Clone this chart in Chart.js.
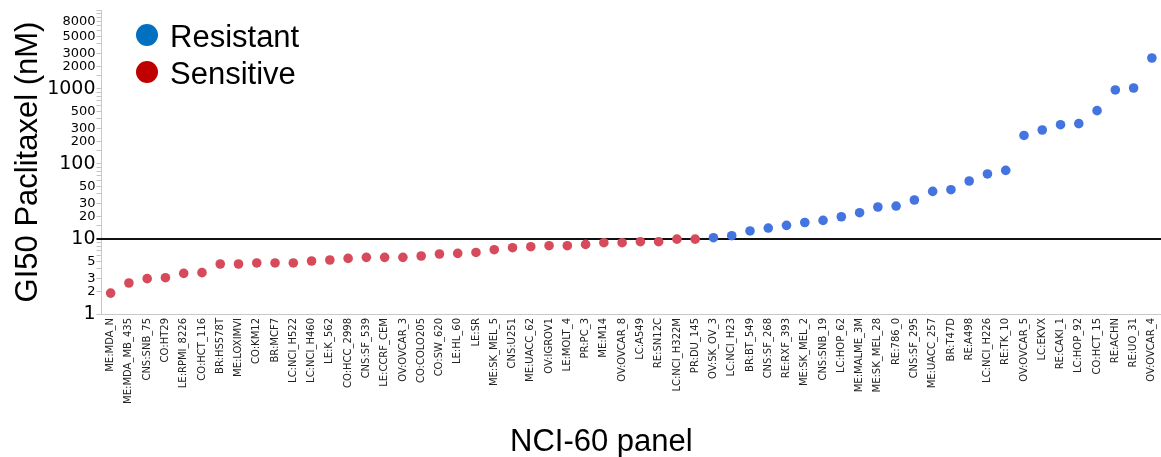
<!DOCTYPE html>
<html>
<head>
<meta charset="utf-8">
<script src="https://cdn.jsdelivr.net/npm/chart.js@4"></script>
<style>
  html, body { margin: 0; padding: 0; background: #fff; }
  #wrap { position: relative; width: 1161px; height: 457px; overflow: hidden; }
  canvas { position: absolute; left: 0; top: 0; }
  .lg { position: absolute; font-family: "Liberation Sans", Arial, sans-serif; font-size: 31px; line-height: 1; color: #000; white-space: nowrap; }
  .dot { position: absolute; width: 22px; height: 22px; border-radius: 50%; }
  #xtitle { position: absolute; left: 510px; top: 425px; font-family: "Liberation Sans", Arial, sans-serif; font-size: 31px; line-height: 1; color: #000; white-space: nowrap; }
</style>
</head>
<body>
<div id="wrap">
  <canvas id="c" width="1161" height="457"></canvas>
  <div class="dot" style="left:136px; top:24px; background:#0070C0;"></div>
  <div class="lg" style="left:170px; top:21px;">Resistant</div>
  <div class="dot" style="left:136px; top:61px; background:#C00000;"></div>
  <div class="lg" style="left:170px; top:58px;">Sensitive</div>
  <div id="xtitle">NCI-60 panel</div>
</div>
<script>
const categories = [
  "ME:MDA_N","ME:MDA_MB_435","CNS:SNB_75","CO:HT29","LE:RPMI_8226","CO:HCT_116","BR:HS578T","ME:LOXIMVI",
  "CO:KM12","BR:MCF7","LC:NCI_H522","LC:NCI_H460","LE:K_562","CO:HCC_2998","CNS:SF_539","LE:CCRF_CEM",
  "OV:OVCAR_3","CO:COLO205","CO:SW_620","LE:HL_60","LE:SR","ME:SK_MEL_5","CNS:U251","ME:UACC_62",
  "OV:IGROV1","LE:MOLT_4","PR:PC_3","ME:M14","OV:OVCAR_8","LC:A549","RE:SN12C","LC:NCI_H322M",
  "PR:DU_145","OV:SK_OV_3","LC:NCI_H23","BR:BT_549","CNS:SF_268","RE:RXF_393","ME:SK_MEL_2","CNS:SNB_19",
  "LC:HOP_62","ME:MALME_3M","ME:SK_MEL_28","RE:786_0","CNS:SF_295","ME:UACC_257","BR:T47D","RE:A498",
  "LC:NCI_H226","RE:TK_10","OV:OVCAR_5","LC:EKVX","RE:CAKI_1","LC:HOP_92","CO:HCT_15","RE:ACHN",
  "RE:UO_31","OV:OVCAR_4"
];
const sensitiveValues = [
  1.9, 2.59, 2.96, 3.05, 3.48, 3.56, 4.64, 4.64, 4.79, 4.79, 4.79, 5.09, 5.25, 5.51, 5.69, 5.69,
  5.69, 5.93, 6.31, 6.43, 6.62, 7.2, 7.66, 7.89, 8.14, 8.14, 8.47, 8.93, 8.93, 9.2, 9.2, 9.95, 9.95
];
const resistantValues = [
  10.4, 11.07, 12.8, 14.0, 15.2, 16.6, 17.7, 19.8, 22.4, 26.7, 27.5, 33.1, 43.1, 45.4, 59.3, 73.6,
  82.2, 240, 284, 334, 345, 514, 970, 1031, 2590
];
const yTickLabels = [1, 2, 3, 5, 10, 20, 30, 50, 100, 200, 300, 500, 1000, 2000, 3000, 5000, 8000];
const majorTickValues = [1, 10, 100, 1000];
const thresholdValue = 10;

const sensitivePoints = sensitiveValues.map((v, i) => ({ x: categories[i], y: v }));
const resistantPoints = resistantValues.map((v, i) => ({ x: categories[sensitiveValues.length + i], y: v }));

const thresholdLine = {
  id: 'thresholdLine',
  beforeDatasetsDraw(chart) {
    const y = chart.scales.y.getPixelForValue(thresholdValue);
    const ctx = chart.ctx;
    ctx.save();
    ctx.strokeStyle = '#111';
    ctx.lineWidth = 2;
    ctx.beginPath();
    ctx.moveTo(chart.chartArea.left - 5, y);
    ctx.lineTo(chart.chartArea.right, y);
    ctx.stroke();
    ctx.restore();
  }
};

new Chart(document.getElementById('c'), {
  type: 'line',
  data: {
    labels: categories,
    datasets: [
      { label: 'Sensitive', data: sensitivePoints, showLine: false, pointRadius: 4.8, pointHoverRadius: 4.8,
        pointBackgroundColor: '#D64A5B', pointBorderWidth: 0, borderColor: '#D64A5B', backgroundColor: '#D64A5B' },
      { label: 'Resistant', data: resistantPoints, showLine: false, pointRadius: 4.8, pointHoverRadius: 4.8,
        pointBackgroundColor: '#4374E0', pointBorderWidth: 0, borderColor: '#4374E0', backgroundColor: '#4374E0' }
    ]
  },
  options: {
    responsive: false,
    devicePixelRatio: 1,
    animation: false,
    layout: { autoPadding: false, padding: { top: 10, left: 0, right: 0, bottom: 0 } },
    plugins: { legend: { display: false }, tooltip: { enabled: false } },
    scales: {
      x: {
        type: 'category',
        offset: true,
        grid: { display: false, drawTicks: false },
        border: { display: true, color: '#c8c8c8', width: 1 },
        ticks: {
          autoSkip: false, maxRotation: 90, minRotation: 90, padding: 4,
          color: '#222', font: { family: 'DejaVu Sans', size: 10 }
        },
        afterFit(s) { s.height = 143; s.paddingLeft = 0; s.paddingRight = 0; }
      },
      y: {
        type: 'logarithmic',
        min: 1,
        max: 11300,
        border: { display: true, color: '#c8c8c8', width: 1 },
        grid: { drawOnChartArea: false, drawTicks: true, tickLength: 5, color: '#c4c4c4' },
        ticks: {
          autoSkip: false,
          padding: 1,
          color: '#000',
          font(ctx) {
            const v = ctx.tick ? Math.round(ctx.tick.value) : 0;
            return { family: 'DejaVu Sans', size: majorTickValues.includes(v) ? 19 : 13 };
          },
          callback(value) {
            const v = Math.round(value);
            return (yTickLabels.includes(v) && Math.abs(value - v) < 1e-6) ? String(v) : '';
          }
        },
        title: {
          display: true,
          text: 'GI50 Paclitaxel (nM)',
          color: '#000',
          font: { family: 'Liberation Sans', size: 31 },
          padding: { top: 10, bottom: 0 }
        },
        afterFit(s) { s.width = 101.5; }
      }
    }
  },
  plugins: [thresholdLine]
});
</script>
</body>
</html>
